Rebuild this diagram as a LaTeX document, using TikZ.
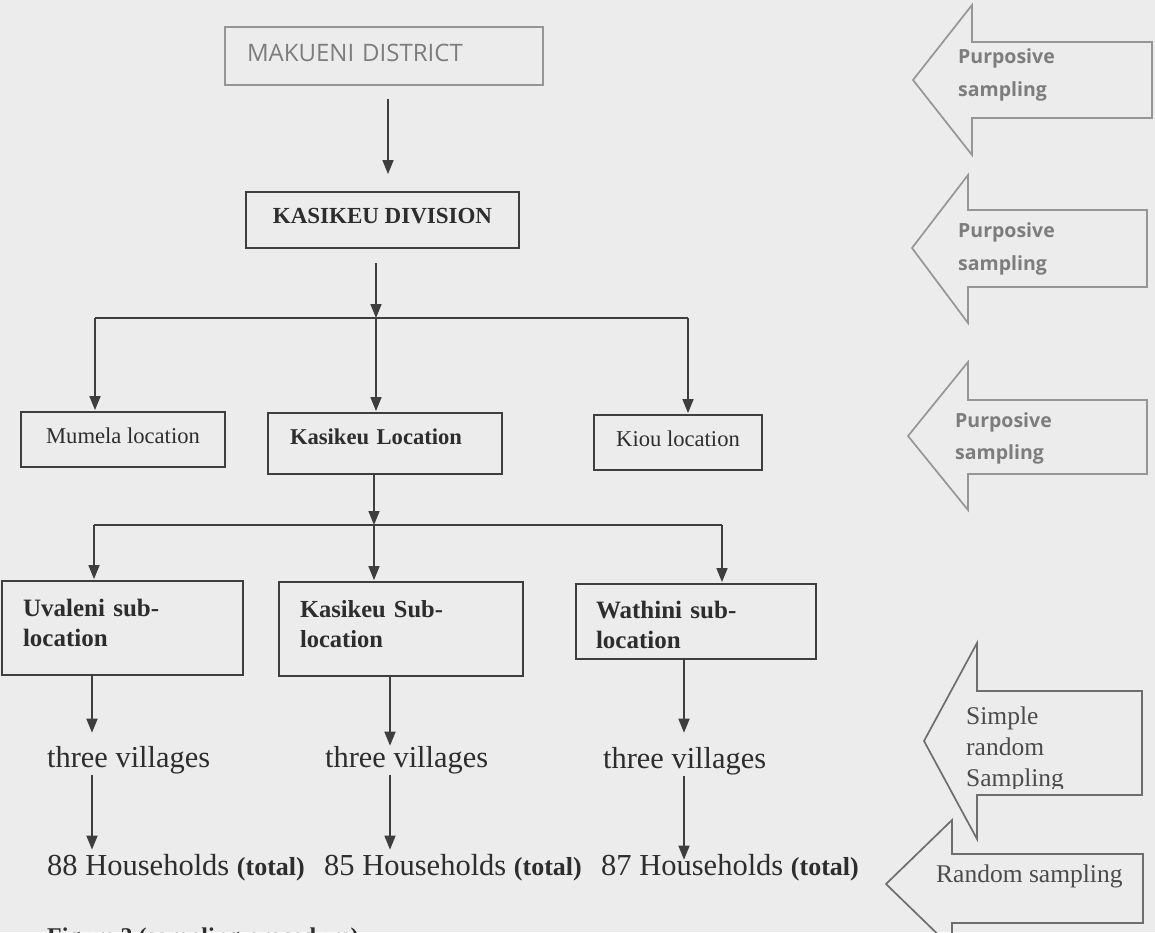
\documentclass[tikz,border=0pt]{standalone}
\usepackage{fontspec}
\setmainfont{Liberation Serif}
\newfontfamily\hsans{Open Sans}
\usetikzlibrary{arrows.meta,calc}
\definecolor{bg}{RGB}{236,236,236}
\definecolor{ink}{RGB}{62,62,62}
\definecolor{txt}{RGB}{45,45,45}
\definecolor{lite}{RGB}{150,150,150}
\definecolor{litetxt}{RGB}{125,125,125}
\definecolor{midln}{RGB}{110,110,110}
\definecolor{midtxt}{RGB}{75,75,75}
\newcommand{\fsz}[2]{\fontsize{#1}{#2}\selectfont}
\begin{document}
\begin{tikzpicture}[x=1pt,y=-1pt,
  box/.style={draw=ink,line width=1.8pt,inner ysep=0pt,text=txt},
  arr/.style={draw=ink,line width=1.6pt,-{Triangle[width=11pt,length=14pt]}},
  ln/.style={draw=ink,line width=1.6pt},
  blockarrow/.style={line width=1.7pt,line join=miter},
  plain/.style={inner sep=0pt,text=txt}]
\useasboundingbox (0,0) rectangle (1155,932);
\fill[bg] (0,0) rectangle (1155,932);
\clip (0,0) rectangle (1155,932);

% ---- boxes ----
\node[box,draw=lite,text=litetxt,inner xsep=22pt,text width=274pt,align=left,
      minimum height=58pt,text depth=7pt,font=\hsans\fsz{24}{28}] (mak) at (384,56) {MAKUENI DISTRICT};
\node[box,minimum width=273pt,minimum height=56pt,text depth=9pt,
      font=\bfseries\fsz{23}{27}] (div) at (382.5,220) {KASIKEU DIVISION};
\node[box,minimum width=204pt,minimum height=55pt,text depth=8pt,
      font=\fsz{22.6}{27}] (mum) at (123,439.5) {Mumela location};
\node[box,inner xsep=22pt,text width=190pt,align=left,minimum height=61pt,text depth=14pt,
      font=\bfseries\fsz{22.6}{27}] (kloc) at (385,443.5) {Kasikeu Location};
\node[box,minimum width=168pt,minimum height=55pt,text depth=8pt,
      font=\fsz{22.6}{27}] (kiou) at (678,442.5) {Kiou location};
\node[box,inner xsep=21pt,text width=199pt,align=left,minimum height=94pt,text depth=41pt,
      font=\bfseries\fsz{25}{30}] (uv) at (122.5,628) {Uvaleni sub-\\location};
\node[box,inner xsep=21pt,text width=202pt,align=left,minimum height=94pt,text depth=41pt,
      font=\bfseries\fsz{24.5}{30}] (ksub) at (401,629) {Kasikeu Sub-\\location};
\node[box,inner xsep=20pt,text width=200pt,align=left,minimum height=75pt,text depth=24pt,
      font=\bfseries\fsz{25}{30}] (wat) at (696,621.5) {Wathini sub-\\location};

% ---- plain texts ----
\node[plain,anchor=base west,font=\fsz{30.4}{36}] (v1) at (47,767) {three villages};
\node[plain,anchor=base west,font=\fsz{30.4}{36}] (v2) at (325,767) {three villages};
\node[plain,anchor=base west,font=\fsz{30.4}{36}] (v3) at (603,768) {three villages};
\node[plain,anchor=base west,font=\fsz{30.5}{36}] (h1) at (47,875) {88 Households {\bfseries\fsz{26}{30}(total)}};
\node[plain,anchor=base west,font=\fsz{30.5}{36}] (h2) at (324,875) {85 Households {\bfseries\fsz{26}{30}(total)}};
\node[plain,anchor=base west,font=\fsz{30.5}{36}] (h3) at (601,875) {87 Households {\bfseries\fsz{26}{30}(total)}};
\node[plain,anchor=base west,font=\bfseries\fsz{24}{28}] (cap) at (47,944) {Figure 3 (sampling procedure)};

% ---- connectors ----
\coordinate (c0) at (388,0);
\coordinate (b1) at (376,318);
\coordinate (b1L) at (95,318);
\coordinate (b1R) at (688,318);
\coordinate (b2) at (374,525);
\coordinate (b2L) at (94,525);
\coordinate (b2R) at (722,525);
\coordinate (d1) at (92,0);
\coordinate (d2) at (390,0);
\coordinate (d3) at (684,0);

\draw[arr,shorten <=13pt,shorten >=17pt] (mak.south -| c0) -- (div.north -| c0);
\draw[arr,shorten <=14pt] (div.south -| b1) -- (b1);
\draw[ln] (b1L) -- (b1R);
\draw[arr,shorten >=1pt] (b1L) -- (b1L |- mum.north);
\draw[arr,shorten >=1pt] (b1) -- (b1 |- kloc.north);
\draw[arr,shorten >=1pt] (b1R) -- (b1R |- kiou.north);

\draw[arr] (kloc.south -| b2) -- (b2);
\draw[ln] (b2L) -- (b2R);
\draw[arr,shorten >=1pt] (b2L) -- (b2L |- uv.north);
\draw[arr,shorten >=1pt] (b2) -- (b2 |- ksub.north);
\draw[arr,shorten >=1pt] (b2R) -- (b2R |- wat.north);

\draw[arr,shorten >=13pt] (uv.south -| d1) -- (v1.north -| d1);
\draw[arr] (ksub.south -| d2) -- (v2.north -| d2);
\draw[arr,shorten >=14pt] (wat.south -| d3) -- (v3.north -| d3);

\draw[arr,shorten <=1pt,shorten >=4pt] (v1.south -| d1) -- (h1.north -| d1);
\draw[arr,shorten <=1pt,shorten >=4pt] (v2.south -| d2) -- (h2.north -| d2);
\draw[arr,shorten <=1pt,shorten >=-6pt] (v3.south -| d3) -- (h3.north -| d3);

% ---- block arrows (sampling methods) ----
\draw[blockarrow,draw=lite] (913,80) -- (972,5) -- (972,42) -- (1152,42) -- (1152,118) -- (972,118) -- (972,155) -- cycle;
\node[plain,text=litetxt,anchor=north west,align=left,font=\hsans\bfseries\fsz{19.5}{33}] (p1) at (958,48) {Purposive\\sampling};

\draw[blockarrow,draw=lite] (912,248) -- (968,175) -- (968,210) -- (1147,210) -- (1147,287) -- (968,287) -- (968,323) -- cycle;
\node[plain,text=litetxt,anchor=north west,align=left,font=\hsans\bfseries\fsz{19.5}{33}] (p2) at (958,222) {Purposive\\sampling};

\draw[blockarrow,draw=lite] (908,436) -- (968,362) -- (968,400) -- (1147,400) -- (1147,474) -- (968,474) -- (968,510) -- cycle;
\node[plain,text=litetxt,anchor=north west,align=left,font=\hsans\bfseries\fsz{19.5}{32}] (p3) at (955,412) {Purposive\\sampling};

\draw[blockarrow,draw=midln] (924,741) -- (977,643) -- (977,691) -- (1142,691) -- (1142,795) -- (977,795) -- (977,839) -- cycle;
\begin{scope}
\clip (955,692) rectangle (1140,788);
\node[plain,text=midtxt,anchor=north west,align=left,font=\fsz{25.5}{31}] (s4) at (966,707) {Simple\\random\\Sampling};
\end{scope}

\draw[blockarrow,draw=midln] (886,884) -- (952,820) -- (952,854) -- (1143,854) -- (1143,923) -- (952,923) -- (952,948) -- cycle;
\node[plain,text=midtxt,anchor=base west,font=\fsz{25.5}{31}] (s5) at (936,882) {Random sampling};
\end{tikzpicture}
\end{document}
